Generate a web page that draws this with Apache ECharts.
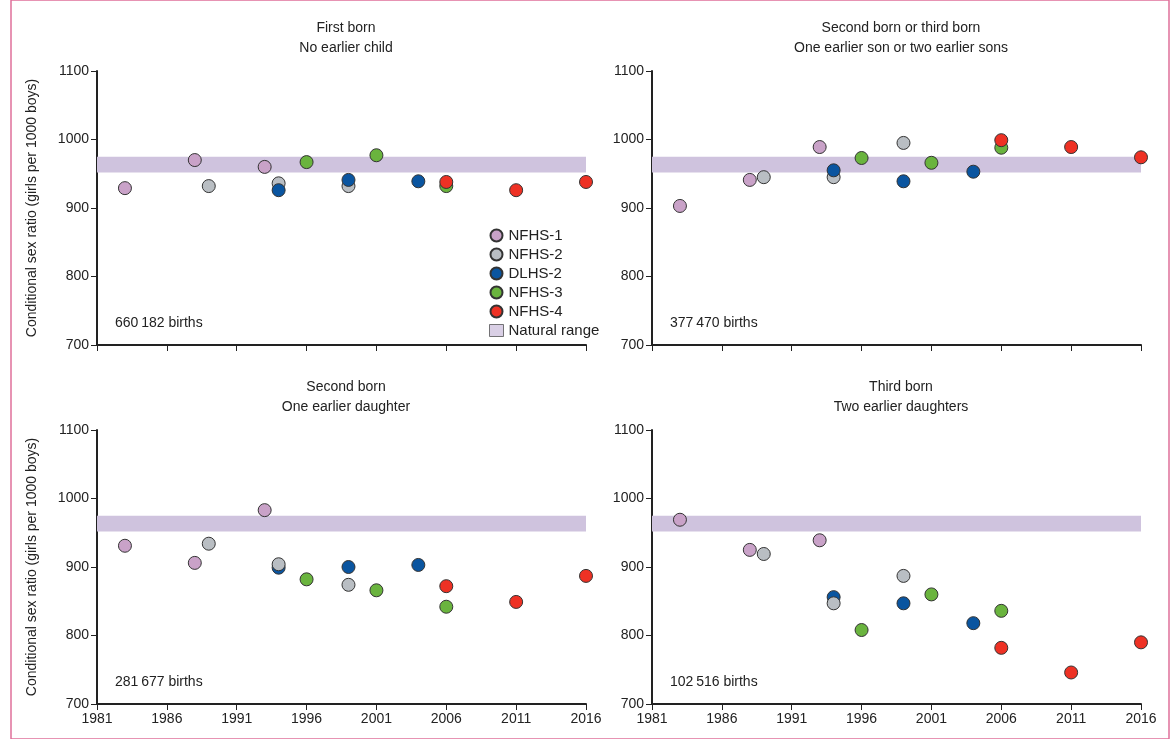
<!DOCTYPE html>
<html>
<head>
<meta charset="utf-8">
<script src="https://cdn.jsdelivr.net/npm/echarts@6/dist/echarts.min.js"></script>
<style>html,body{margin:0;padding:0;background:#fff}#c{width:1175px;height:739px}</style>
</head>
<body>
<div id="c"></div>
<script>
var surveys = ['NFHS-1', 'NFHS-2', 'DLHS-2', 'NFHS-3', 'NFHS-4'];
var colors = ['#c9a2c8', '#b9bec3', '#0a55a0', '#6ab43e', '#ee3124'];
var naturalRange = [952, 975];
var panelTitles = [
    'First born\nNo earlier child',
    'Second born or third born\nOne earlier son or two earlier sons',
    'Second born\nOne earlier daughter',
    'Third born\nTwo earlier daughters'
];
var births = ['660\u2009182 births', '377\u2009470 births', '281\u2009677 births', '102\u2009516 births'];

// panel -> survey (same order as surveys) -> [year, ratio]
var panel1 = [
    [[1983, 929], [1988, 970], [1993, 960]],
    [[1989, 932], [1994, 936], [1999, 932]],
    [[1994, 926], [1999, 941], [2004, 939]],
    [[1996, 967], [2001, 977], [2006, 932]],
    [[2006, 938], [2011, 926], [2016, 938]]
];
var panel2 = [
    [[1983, 903], [1988, 941], [1993, 989]],
    [[1989, 945], [1994, 945], [1999, 995]],
    [[1994, 955], [1999, 939], [2004, 953]],
    [[1996, 973], [2001, 966], [2006, 988]],
    [[2006, 999], [2011, 989], [2016, 974]]
];
var panel3 = [
    [[1983, 931], [1988, 906], [1993, 983]],
    [[1989, 934], [1994, 904], [1999, 874]],
    [[1994, 899], [1999, 900], [2004, 903]],
    [[1996, 882], [2001, 866], [2006, 842]],
    [[2006, 872], [2011, 849], [2016, 887]]
];
var panel4 = [
    [[1983, 969], [1988, 925], [1993, 939]],
    [[1989, 919], [1994, 847], [1999, 887]],
    [[1994, 856], [1999, 847], [2004, 818]],
    [[1996, 808], [2001, 860], [2006, 836]],
    [[2006, 782], [2011, 746], [2016, 790]]
];
// in panels 3 and 4 DLHS-2 is drawn under NFHS-2
var panelOrder = [[0, 1, 2, 3, 4], [0, 1, 2, 3, 4], [0, 2, 1, 3, 4], [0, 2, 1, 3, 4]];
var panels = [panel1, panel2, panel3, panel4];

var chart = echarts.init(document.getElementById('c'));
var font = 'Liberation Sans';
var lefts = [97, 652, 97, 652], tops = [71, 71, 430, 430];
var grids = [], xAxes = [], yAxes = [], series = [], titles = [], graphics = [];
var plain = function (v) { return String(v); };

for (var p = 0; p < 4; p++) {
    grids.push({left: lefts[p], top: tops[p], width: 489, height: 274});
    xAxes.push({
        type: 'value', gridIndex: p, min: 1981, max: 2016, interval: 5,
        axisLine: {lineStyle: {color: '#222', width: 2}},
        axisTick: {length: 6, lineStyle: {color: '#222'}},
        axisLabel: {show: p >= 2, color: '#222', fontSize: 14, fontFamily: font, margin: 8, formatter: plain},
        splitLine: {show: false}
    });
    yAxes.push({
        type: 'value', gridIndex: p, min: 700, max: 1100, interval: 100,
        name: p % 2 === 0 ? 'Conditional sex ratio (girls per 1000 boys)' : '',
        nameLocation: 'middle', nameGap: 58, nameRotate: 90,
        nameTextStyle: {color: '#222', fontSize: 14, fontFamily: font},
        axisLine: {show: true, lineStyle: {color: '#222', width: 2}},
        axisTick: {show: true, length: 6, lineStyle: {color: '#222'}},
        axisLabel: {color: '#222', fontSize: 14, fontFamily: font, margin: 8, formatter: plain},
        splitLine: {show: false}
    });
    titles.push({
        text: panelTitles[p], left: lefts[p] + 244, top: tops[p] - 58, textAlign: 'center',
        textStyle: {color: '#222', fontSize: 14, fontWeight: 'normal', fontFamily: font, lineHeight: 20}
    });
    graphics.push({
        type: 'text', left: lefts[p] + 18, top: tops[p] + 245,
        style: {text: births[p], fill: '#222', font: '14px ' + font}
    });
    series.push({
        type: 'scatter', xAxisIndex: p, yAxisIndex: p, data: [], silent: true,
        markArea: {
            silent: true, itemStyle: {color: '#cfc3de'},
            data: [[{yAxis: naturalRange[0], xAxis: 1981}, {yAxis: naturalRange[1], xAxis: 2016}]]
        }
    });
    for (var k = 0; k < 5; k++) {
        var s = panelOrder[p][k];
        series.push({
            name: surveys[s], type: 'scatter', xAxisIndex: p, yAxisIndex: p,
            data: panels[p][s], symbolSize: 13,
            itemStyle: {color: colors[s], borderColor: '#333', borderWidth: 1, opacity: 1}
        });
    }
}
series.push({name: 'Natural range', type: 'scatter', data: [], itemStyle: {color: '#cfc3de', borderColor: '#555', borderWidth: 1}});

graphics.push({
    type: 'rect', shape: {x: 11, y: 0, width: 1158, height: 739},
    style: {fill: 'none', stroke: '#e0709a', lineWidth: 1.5}
});

chart.setOption({
    animation: false,
    title: titles,
    grid: grids,
    xAxis: xAxes,
    yAxis: yAxes,
    legend: {
        left: 484, top: 223, orient: 'vertical', itemGap: 4, itemWidth: 14, itemHeight: 12,
        textStyle: {color: '#222', fontSize: 15, fontFamily: font},
        data: surveys.map(function (n) { return {name: n, icon: 'circle'}; })
            .concat([{name: 'Natural range', icon: 'rect', itemStyle: {color: '#cfc3de', borderColor: '#555', borderWidth: 1}}])
    },
    graphic: graphics,
    series: series
});
</script>
</body>
</html>
